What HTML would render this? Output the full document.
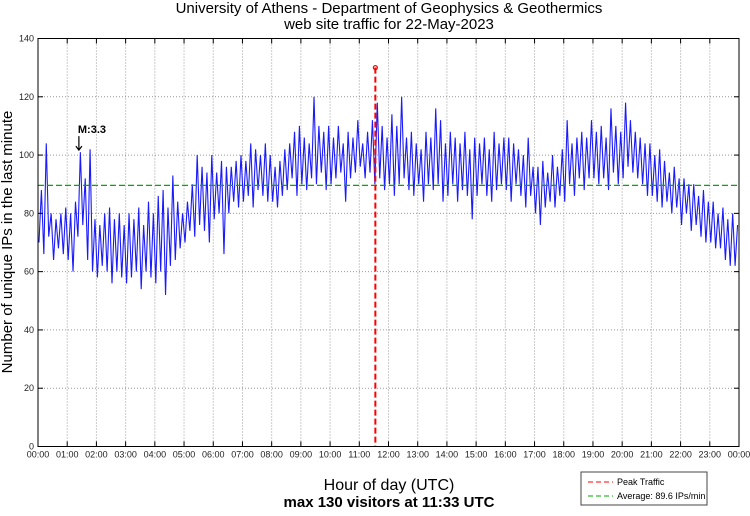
<!DOCTYPE html>
<html><head><meta charset="utf-8"><style>
body{margin:0;background:#fff;}
svg text{font-family:"Liberation Sans",sans-serif;}
</style></head><body>
<svg id="chart" width="750" height="511" viewBox="0 0 750 511" xmlns="http://www.w3.org/2000/svg">
<text x="389" y="13" font-size="15" text-anchor="middle">University of Athens - Department of Geophysics &amp; Geothermics</text>
<text x="389" y="29" font-size="15" text-anchor="middle">web site traffic for 22-May-2023</text>
<text transform="translate(12,242) rotate(-90)" font-size="15" text-anchor="middle">Number of unique IPs in the last minute</text>
<text x="389" y="490" font-size="16" text-anchor="middle">Hour of day (UTC)</text>
<text x="389" y="507" font-size="15" font-weight="bold" text-anchor="middle">max 130 visitors at 11:33 UTC</text>
<g id="grid"></g>
<g id="series"></g>
<g id="marks"></g>
<g id="axes"></g>
<g>
<rect x="581" y="472" width="126" height="33" fill="#fff" stroke="#444" stroke-width="1"/>
<line x1="588" y1="482" x2="613" y2="482" stroke="#f00" stroke-dasharray="5,3"/>
<text x="617" y="485" font-size="9">Peak Traffic</text>
<line x1="588" y1="496" x2="613" y2="496" stroke="#0a0" stroke-dasharray="5,3"/>
<text x="617" y="499" font-size="9">Average: 89.6 IPs/min</text>
</g>
</svg>
<script>
const yTicks=[0,20,40,60,80,100,120,140];
const hourLabels=["00:00","01:00","02:00","03:00","04:00","05:00","06:00","07:00","08:00","09:00","10:00","11:00","12:00","13:00","14:00","15:00","16:00","17:00","18:00","19:00","20:00","21:00","22:00","23:00","00:00"];
const averageValue=89.6;
const peakValue=130;
const peakMinute=693;
const annotationMinute=84;
const annotationValue=101;
const visitors=[
70,88,66,104,72,80,64,78,68,80,66,82,
64,80,60,84,72,101,76,92,64,102,60,78,
58,76,62,80,60,82,56,78,60,80,58,76,
56,80,58,78,60,82,54,76,60,84,58,80,
56,86,60,88,52,82,62,93,64,84,68,80,
70,84,74,90,72,100,76,96,74,94,70,100,
78,94,80,98,66,96,80,96,84,98,82,100,
84,98,86,104,82,102,88,100,86,104,84,100,
84,96,82,98,86,102,88,104,92,108,86,110,
90,106,88,104,92,120,90,110,94,108,88,110,
90,106,92,110,94,104,84,108,92,106,94,112,
96,104,92,108,94,112,90,118,92,110,88,106,
90,114,86,110,90,120,92,106,88,108,86,104,
90,102,84,108,90,106,88,116,90,112,84,104,
86,108,90,106,84,104,88,108,86,102,78,106,
86,104,90,106,86,102,84,108,88,104,90,106,
88,106,84,104,90,102,86,100,82,106,86,96,
80,96,76,98,82,94,84,100,82,96,86,102,
84,112,90,104,86,106,92,108,88,106,92,112,
92,108,90,110,92,106,88,116,94,110,90,108,
92,118,96,112,94,108,92,106,90,104,86,104,
86,100,84,102,82,98,84,94,80,96,82,92,
76,92,80,90,74,90,76,86,72,88,70,84,
70,84,68,80,68,82,64,78,62,80,62,76];
const L=38,R=739,T=38.5,B=446.5;
const X=m=>L+(R-L)*m/1440;
const Y=v=>B-(B-T)*v/140;
const NS="http://www.w3.org/2000/svg";
function mk(parent,tag,attrs){const e=document.createElementNS(NS,tag);for(const k in attrs)e.setAttribute(k,attrs[k]);document.getElementById(parent).appendChild(e);return e;}
// grid & ticks
yTicks.forEach(v=>{
 if(v>0&&v<140){const g=mk('grid','line',{x1:L,x2:R,y1:Y(v),y2:Y(v),stroke:'#999','stroke-dasharray':'1,2'});
 
 }
 const t=mk('axes','text',{x:L-4,y:Y(v)+3,'font-size':9,'text-anchor':'end',fill:'#222'});t.textContent=v;
 
 
 mk('axes','line',{x1:L,x2:L+5,y1:Y(v),y2:Y(v),stroke:'#000'});
 mk('axes','line',{x1:R-5,x2:R,y1:Y(v),y2:Y(v),stroke:'#000'});
});
hourLabels.forEach((s,i)=>{
 const x=X(i*60);
 if(i>0&&i<24){const g=mk('grid','line',{x1:x,x2:x,y1:T,y2:B,stroke:'#999','stroke-dasharray':'1,2'});
 
 }
 const t=mk('axes','text',{x:x,y:B+11,'font-size':9,'text-anchor':'middle',fill:'#222'});t.textContent=s;
 
 
 mk('axes','line',{x1:x,x2:x,y1:B,y2:B-5,stroke:'#000'});
 mk('axes','line',{x1:x,x2:x,y1:T,y2:T+5,stroke:'#000'});
});
const box=mk('axes','rect',{x:L,y:T,width:R-L,height:B-T,fill:'none',stroke:'#000'});


// series
const pts=visitors.map((v,i)=>X(i*5+2)+','+Y(v)).join(' ');
const line=mk('series','polyline',{points:pts,fill:'none',stroke:'#1a1aff','stroke-width':1.1});


// average
const avg=mk('marks','line',{x1:L,x2:R,y1:Y(averageValue),y2:Y(averageValue),stroke:'#0a0','stroke-width':1.3,'stroke-dasharray':'6,3'});


// peak
const pk=mk('marks','line',{x1:X(peakMinute),x2:X(peakMinute),y1:Y(peakValue),y2:B,stroke:'#f00','stroke-width':2,'stroke-dasharray':'6,3'});


const pc=mk('marks','circle',{cx:X(peakMinute),cy:Y(peakValue),r:2,fill:'none',stroke:'#f00','stroke-width':1.2});


// annotation
const ax=X(annotationMinute);
const ar=mk('marks','path',{d:`M${ax} ${Y(annotationValue)-16} V${Y(annotationValue)-2} M${ax-3} ${Y(annotationValue)-6} L${ax} ${Y(annotationValue)-2} L${ax+3} ${Y(annotationValue)-6}`,stroke:'#000',fill:'none','stroke-width':1.2});


const at=mk('marks','text',{x:ax-1,y:Y(annotationValue)-19,'font-size':11,'font-weight':'bold'});at.textContent='M:3.3';


</script>
</body></html>
